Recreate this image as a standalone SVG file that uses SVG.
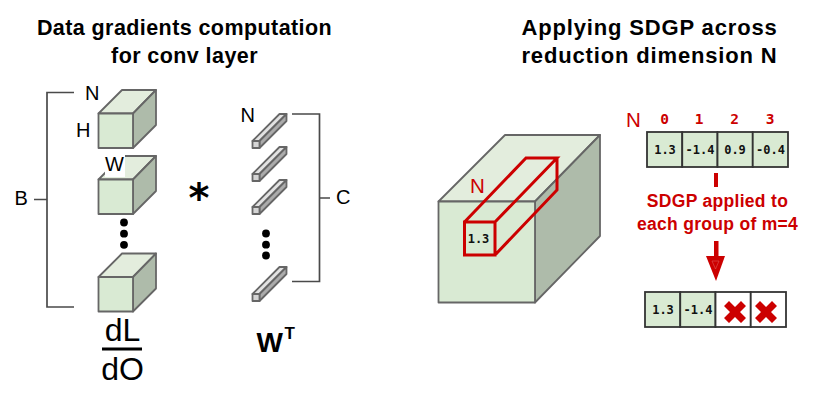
<svg xmlns="http://www.w3.org/2000/svg" width="830" height="404" viewBox="0 0 830 404">
  <style>
    text { font-family: "Liberation Sans", Arial, sans-serif; fill: #000; }
    .title { font-weight: bold; text-anchor: middle; }
    .tl { font-size: 21.5px; letter-spacing: 0.42px; }
    .tr { font-size: 22px; letter-spacing: 0.85px; }
    .lbl { font-size: 20px; }
    .red { fill: #cc0000; }
    .note { font-size: 17.5px; font-weight: bold; letter-spacing: 0.3px; text-anchor: middle; fill: #cc0000; }
    .mono { font-family: "DejaVu Sans Mono", monospace; font-weight: bold; font-size: 12px; text-anchor: middle; fill: #111; }
    .idx { font-family: "DejaVu Sans Mono", monospace; font-weight: bold; font-size: 14.5px; text-anchor: middle; fill: #cc0000; }
    .edge { fill: none; stroke: #666; stroke-width: 1.8; stroke-linejoin: round; }
    .front { fill: #d9ead3; }
    .top { fill: #e3eddd; }
    .side { fill: #aebbaa; }
    .bfront { fill: #d4d4d4; }
    .btop { fill: #e2e2e2; }
    .bside { fill: #ababab; }
    .brk { fill: none; stroke: #4a4a4a; stroke-width: 1.7; }
    .cell { fill: #d9ead3; stroke: #333; stroke-width: 1.8; }
    .empty { fill: #fff; stroke: #333; stroke-width: 1.8; }
    .rl { fill: none; stroke: #cc0000; stroke-width: 3; stroke-linejoin: miter; }
  </style>
  <defs>
    <g id="cube">
      <path class="top edge" d="M0 23.5 L23.5 0 H57.5 L34.5 23.5 Z"/>
      <path class="side edge" d="M34.5 23.5 L57.5 0 V35 L34.5 58 Z"/>
      <rect class="front edge" x="0" y="23.5" width="34.5" height="34.5"/>
    </g>
    <g id="bar">
      <path class="btop edge" d="M0 27 L27 0 H34 L7 27 Z"/>
      <path class="bside edge" d="M7 27 L34 0 V7 L7 34 Z"/>
      <rect class="bfront edge" x="0" y="27" width="7" height="7"/>
    </g>
    <path id="cross" d="M-6 -11 L0 -5 L6 -11 L11 -6 L5 0 L11 6 L6 11 L0 5 L-6 11 L-11 6 L-5 0 L-11 -6 Z" fill="#cc0000"/>
  </defs>

  <g id="title-left">
    <text class="title tl" x="184.500" y="35">Data gradients computation</text>
    <text class="title tl" x="184.500" y="62.500">for conv layer</text>
  </g>
  <g id="title-right">
    <text class="title tr" x="649.500" y="35">Applying SDGP across</text>
    <text class="title tr" x="649.500" y="62.500">reduction dimension N</text>
  </g>

  <g id="connectors">
    <path class="brk" d="M74 92.500 H47 V307 H74 M34 199.500 H47"/>
    <path class="brk" d="M292 114 H319.500 V281.500 H292 M319.500 198 H330"/>
  </g>

  <g id="feature-maps">
    <use href="#cube" x="98.500" y="90"/>
    <use href="#cube" x="98.500" y="156"/>
    <rect x="105" y="152" width="20" height="25" fill="#fff"/>
    <use href="#cube" x="98.500" y="253.500"/>
    <g fill="#000">
      <circle cx="124" cy="222.500" r="3.900"/>
      <circle cx="124" cy="233.700" r="3.900"/>
      <circle cx="124" cy="244.800" r="3.900"/>
    </g>
    <text class="lbl" x="85" y="100">N</text>
    <text class="lbl" x="76" y="137">H</text>
    <text class="lbl" x="105" y="170.500">W</text>
    <text class="lbl" x="14.500" y="205">B</text>
  </g>

  <g id="gradient-label">
    <text x="122.500" y="341" font-size="32" text-anchor="middle">dL</text>
    <rect x="102" y="347.500" width="40" height="3" fill="#000"/>
    <text x="122.500" y="379.500" font-size="32" text-anchor="middle">dO</text>
  </g>

  <g id="multiply">
    <text x="199" y="212" font-size="40" font-weight="bold" text-anchor="middle" style="font-family:'DejaVu Sans',sans-serif">*</text>
  </g>

  <g id="weights">
    <use href="#bar" x="252.500" y="114"/>
    <use href="#bar" x="252.500" y="147"/>
    <use href="#bar" x="252.500" y="180"/>
    <use href="#bar" x="252.500" y="267"/>
    <g fill="#000">
      <circle cx="266" cy="233.500" r="3.900"/>
      <circle cx="266" cy="244.700" r="3.900"/>
      <circle cx="266" cy="255.500" r="3.900"/>
    </g>
    <text class="lbl" x="240.500" y="122">N</text>
    <text class="lbl" x="336" y="204">C</text>
    <text x="256.500" y="352" font-size="28" font-weight="bold">W</text>
    <text x="284.500" y="338.500" font-size="17" font-weight="bold">T</text>
  </g>

  <g id="tensor">
    <path class="top edge" d="M438.500 201.500 L505 135 H600 L535 201.500 Z"/>
    <path class="side edge" d="M535 201.500 L600 135 V236 L535 302.500 Z"/>
    <rect class="front edge" x="438.500" y="201.500" width="96.500" height="101"/>
    <text x="470" y="193" font-size="20.500" class="red">N</text>
    <path class="rl" d="M464.500 222 H495 V255 H464.500 Z M464.500 222 L526 158 H557 L495 222 M557 158 V190 L495 255"/>
    <text class="mono" x="478.500" y="243">1.3</text>
  </g>

  <g id="group-before">
    <text x="626" y="127" font-size="20.500" class="red">N</text>
    <text class="idx" x="664.500" y="124">0</text>
    <text class="idx" x="699" y="124">1</text>
    <text class="idx" x="734.500" y="124">2</text>
    <text class="idx" x="770" y="124">3</text>
    <rect class="cell" x="647" y="132" width="35.250" height="35"/>
    <rect class="cell" x="682.250" y="132" width="35.250" height="35"/>
    <rect class="cell" x="717.500" y="132" width="35.250" height="35"/>
    <rect class="cell" x="752.750" y="132" width="35.250" height="35"/>
    <text class="mono" x="665" y="154">1.3</text>
    <text class="mono" x="700" y="154">-1.4</text>
    <text class="mono" x="735" y="154">0.9</text>
    <text class="mono" x="770.500" y="154">-0.4</text>
  </g>

  <g id="sdgp-step">
    <rect x="714" y="173" width="4" height="14" fill="#cc0000"/>
    <text class="note" x="717.500" y="207">SDGP applied to</text>
    <text class="note" x="717.500" y="229.500">each group of m=4</text>
    <rect x="714" y="241" width="4.500" height="16" fill="#cc0000"/>
    <path d="M706 256 H725 L716 281 Z" fill="#cc0000"/>
    <path d="M712 261 H719 L715.500 269 Z" fill="none" stroke="#dd5555" stroke-width="0.600"/>
  </g>

  <g id="group-after">
    <rect class="cell" x="645" y="292" width="35.250" height="35"/>
    <rect class="cell" x="680.250" y="292" width="35.250" height="35"/>
    <rect class="empty" x="715.500" y="292" width="35.250" height="35"/>
    <rect class="empty" x="750.750" y="292" width="35.250" height="35"/>
    <text class="mono" x="663" y="314">1.3</text>
    <text class="mono" x="698" y="314">-1.4</text>
    <use href="#cross" x="735" y="312"/>
    <use href="#cross" x="766" y="312"/>
  </g>
</svg>
